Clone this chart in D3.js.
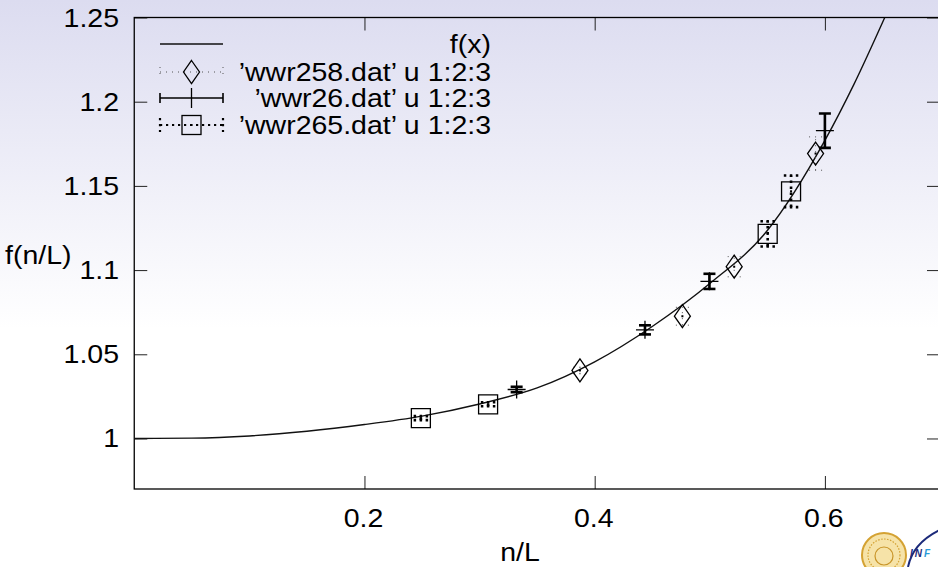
<!DOCTYPE html>
<html>
<head>
<meta charset="utf-8">
<script src="https://cdn.jsdelivr.net/npm/d3@7"></script>
<style>
  body { margin: 0; background: #fff; }
  svg { display: block; }
</style>
</head>
<body>
<div id="chart"></div>
<script>
// fitted curve f(x)
const curveX = [0, 0.05, 0.1, 0.15, 0.2, 0.25, 0.3, 0.35, 0.4, 0.45, 0.5, 0.55, 0.6, 0.625, 0.652];
const curveY = [1.0, 1.0002, 1.0015, 1.0043, 1.0083, 1.0133, 1.0205, 1.0300, 1.0455, 1.0665, 1.0920, 1.1235, 1.1770, 1.2100, 1.2500];

// 'wwr258.dat' (diamonds, dotted bars)
const wwr258X = [0.3872, 0.4762, 0.5212, 0.5919];
const wwr258Y = [1.0404, 1.0726, 1.1020, 1.1692];
const wwr258Err = [0.0020, 0.0053, 0.0060, 0.0099];

// 'wwr26.dat' (plus, solid bars)
const wwr26X = [0.3322, 0.4437, 0.4997, 0.6000];
const wwr26Y = [1.0291, 1.0645, 1.0933, 1.1828];
const wwr26Err = [0.0016, 0.0027, 0.0045, 0.0102];

// 'wwr265.dat' (squares, dotted bars)
const wwr265X = [0.2490, 0.3074, 0.5503, 0.5706];
const wwr265Y = [1.0121, 1.0203, 1.1215, 1.1468];
const wwr265Err = [0.0012, 0.0012, 0.0075, 0.0094];

const xTicks = [0.2, 0.4, 0.6];
const yTicks = [1, 1.05, 1.1, 1.15, 1.2, 1.25];
const legendLabels = ["f(x)", "\u2019wwr258.dat\u2019 u 1:2:3", "\u2019wwr26.dat\u2019 u 1:2:3", "\u2019wwr265.dat\u2019 u 1:2:3"];

const W = 938, H = 567;
const frame = {left: 134.25, top: 17.5, right: 940, bottom: 489};
const stretch = 1.14;   // the text in the picture is drawn wide
const font = "'Liberation Sans', Arial, Helvetica, sans-serif";

const svg = d3.select("#chart").append("svg")
    .attr("width", W)
    .attr("height", H);

const defs = svg.append("defs");
const grad = defs.append("linearGradient").attr("id", "bg")
    .attr("x1", 0).attr("y1", 0).attr("x2", 0).attr("y2", 1);
grad.append("stop").attr("offset", "0").attr("stop-color", "#dcdcf0");
grad.append("stop").attr("offset", "0.58").attr("stop-color", "#ffffff");
svg.append("rect").attr("width", W).attr("height", H).attr("fill", "url(#bg)");

defs.append("clipPath").attr("id", "plotclip")
    .append("rect")
    .attr("x", frame.left).attr("y", frame.top)
    .attr("width", frame.right - frame.left).attr("height", frame.bottom - frame.top);

const x = d3.scaleLinear().domain([0, 0.7]).range([frame.left, frame.right]);
const y = d3.scaleLinear().domain([0.97, 1.25]).range([frame.bottom, frame.top]);

function label(px, py, str, anchor, size) {
    return svg.append("text")
        .attr("transform", `translate(${px},${py}) scale(${stretch},1)`)
        .attr("text-anchor", anchor)
        .style("font-family", font)
        .style("font-size", size + "px")
        .attr("fill", "#000")
        .text(str);
}

// ticks, mirrored on all four sides, pointing inward
const tickLen = 13;
function tickStyle(g) {
    g.select(".domain").remove();
    g.selectAll("line").attr("stroke", "#222").attr("stroke-width", 1);
}
svg.append("g").attr("transform", `translate(0,${frame.bottom})`)
    .call(d3.axisBottom(x).tickValues(xTicks).tickSizeInner(-tickLen).tickSizeOuter(0).tickFormat(""))
    .call(tickStyle);
svg.append("g").attr("transform", `translate(0,${frame.top})`)
    .call(d3.axisTop(x).tickValues(xTicks).tickSizeInner(-tickLen).tickSizeOuter(0).tickFormat(""))
    .call(tickStyle);
svg.append("g").attr("transform", `translate(${frame.left},0)`)
    .call(d3.axisLeft(y).tickValues(yTicks).tickSizeInner(-tickLen).tickSizeOuter(0).tickFormat(""))
    .call(tickStyle);
svg.append("g").attr("transform", `translate(${frame.right},0)`)
    .call(d3.axisRight(y).tickValues(yTicks).tickSizeInner(-tickLen).tickSizeOuter(0).tickFormat(""))
    .call(tickStyle);

// frame
svg.append("rect")
    .attr("x", frame.left).attr("y", frame.top)
    .attr("width", frame.right - frame.left).attr("height", frame.bottom - frame.top)
    .attr("fill", "none").attr("stroke", "#000").attr("stroke-width", 1.3);

// tick labels
yTicks.forEach(v => label(119, y(v) + 9, d3.format("")(v), "end", 25));
xTicks.forEach(v => label(x(v) - 1, 527, d3.format("")(v), "middle", 25));

// axis titles
label(5, 264, "f(n/L)", "start", 25);
label(520, 561, "n/L", "middle", 25);

// the curve
const plot = svg.append("g").attr("clip-path", "url(#plotclip)");
const line = d3.line()
    .x(d => x(d[0]))
    .y(d => y(d[1]))
    .curve(d3.curveMonotoneX);
plot.append("path")
    .datum(d3.zip(curveX, curveY))
    .attr("d", line)
    .attr("fill", "none")
    .attr("stroke", "#111")
    .attr("stroke-width", 1.4);

// error bars
function errorBars(xs, ys, es, style) {
    const g = plot.append("g");
    const cw = style.cap;
    xs.forEach((xv, i) => {
        const cx = x(xv), lo = y(ys[i] - es[i]), hi = y(ys[i] + es[i]);
        [[cx, lo, cx, hi], [cx - cw / 2, lo, cx + cw / 2, lo], [cx - cw / 2, hi, cx + cw / 2, hi]]
            .forEach(s => g.append("line")
                .attr("x1", s[0]).attr("y1", s[1]).attr("x2", s[2]).attr("y2", s[3])
                .attr("stroke", style.color)
                .attr("stroke-width", style.width)
                .attr("stroke-dasharray", style.dash));
    });
    return g;
}
const dotThin = {color: "#555", width: 1, dash: "1,5", cap: 13};
const solidBar = {color: "#000", width: 2.6, dash: null, cap: 12};
const dotThick = {color: "#000", width: 2.6, dash: "2.5,3.5", cap: 14.5};

errorBars(wwr258X, wwr258Y, wwr258Err, dotThin);
errorBars(wwr26X, wwr26Y, wwr26Err, solidBar);
errorBars(wwr265X, wwr265Y, wwr265Err, dotThick);

// point shapes
const diamond = (cx, cy) => `M${cx},${cy - 11.5}L${cx + 8},${cy}L${cx},${cy + 11.5}L${cx - 8},${cy}Z`;
const square = (cx, cy) => `M${cx - 9.5},${cy - 9.5}h19v19h-19Z`;
const plus = (cx, cy) => `M${cx - 9},${cy}h18M${cx},${cy - 9}v18`;

function points(xs, ys, shape, dot) {
    const g = plot.append("g");
    g.selectAll("path")
        .data(d3.zip(xs, ys))
        .join("path")
        .attr("d", d => shape(x(d[0]), y(d[1])))
        .attr("fill", "none")
        .attr("stroke", "#000")
        .attr("stroke-width", 1.3);
    if (dot) {
        g.selectAll("rect")
            .data(d3.zip(xs, ys))
            .join("rect")
            .attr("x", d => x(d[0]) - 1).attr("y", d => y(d[1]) - 1)
            .attr("width", 2).attr("height", 2)
            .attr("fill", "#000");
    }
}
points(wwr258X, wwr258Y, diamond, true);
points(wwr26X, wwr26Y, plus, false);
points(wwr265X, wwr265Y, square, true);

// legend
const legX0 = 160, legX1 = 223, legMid = (legX0 + legX1) / 2;
const legRows = [44, 72, 98, 125];
const leg = svg.append("g");
function legLine(x1, y1, x2, y2, st) {
    leg.append("line")
        .attr("x1", x1).attr("y1", y1).attr("x2", x2).attr("y2", y2)
        .attr("stroke", st.color).attr("stroke-width", st.width)
        .attr("stroke-dasharray", st.dash);
}
// f(x)
legLine(legX0, legRows[0], legX1, legRows[0], {color: "#111", width: 1.4, dash: null});
// diamonds
[[legX0, legRows[1], legX1, legRows[1]], [legX0, legRows[1] - 5, legX0, legRows[1] + 5], [legX1, legRows[1] - 5, legX1, legRows[1] + 5]]
    .forEach(s => legLine(s[0], s[1], s[2], s[3], dotThin));
leg.append("path").attr("d", diamond(legMid, legRows[1])).attr("fill", "none").attr("stroke", "#000").attr("stroke-width", 1.3);
// plus with bars
legLine(legX0, legRows[2], legX1, legRows[2], {color: "#000", width: 1.6, dash: null});
legLine(legX0, legRows[2] - 5, legX0, legRows[2] + 5, {color: "#000", width: 1.6, dash: null});
legLine(legX1, legRows[2] - 5, legX1, legRows[2] + 5, {color: "#000", width: 1.6, dash: null});
leg.append("path").attr("d", `M${legMid},${legRows[2] - 10}v20`).attr("stroke", "#000").attr("stroke-width", 1.3);
// squares
[[legX0, legRows[3], legX1, legRows[3]], [legX0, legRows[3] - 7, legX0, legRows[3] + 7], [legX1, legRows[3] - 7, legX1, legRows[3] + 7]]
    .forEach(s => legLine(s[0], s[1], s[2], s[3], {color: "#000", width: 2.2, dash: "2.2,3.8"}));
leg.append("rect").attr("x", legMid - 9.5).attr("y", legRows[3] - 9.5).attr("width", 19).attr("height", 19)
    .attr("fill", "none").attr("stroke", "#000").attr("stroke-width", 1.3);
leg.append("rect").attr("x", legMid - 1).attr("y", legRows[3] - 1).attr("width", 2).attr("height", 2).attr("fill", "#000");

legendLabels.forEach((t, i) => label(491, legRows[i] + 8.8, t, "end", 25));

// logos in the corner
const logo = svg.append("g");
logo.append("circle").attr("cx", 884).attr("cy", 555).attr("r", 22)
    .attr("fill", "#f6e3a8").attr("stroke", "#d4a233").attr("stroke-width", 2);
logo.append("circle").attr("cx", 884).attr("cy", 555).attr("r", 16)
    .attr("fill", "none").attr("stroke", "#d4a233").attr("stroke-width", 1.2).attr("stroke-dasharray", "1.5,1.5");
logo.append("circle").attr("cx", 884).attr("cy", 556).attr("r", 9)
    .attr("fill", "none").attr("stroke", "#c89428").attr("stroke-width", 1.2);
logo.append("path").attr("d", "M908,567 Q913,543 940,530")
    .attr("fill", "none").attr("stroke", "#1c2a7a").attr("stroke-width", 2);
const infn = logo.append("text").attr("x", 910).attr("y", 557)
    .style("font-family", font).style("font-size", "10px")
    .style("font-weight", "bold").style("font-style", "italic").style("letter-spacing", "2px");
infn.append("tspan").attr("fill", "#1c2a7a").text("IN");
infn.append("tspan").attr("fill", "#2a9ad8").text("F");
</script>
</body>
</html>
